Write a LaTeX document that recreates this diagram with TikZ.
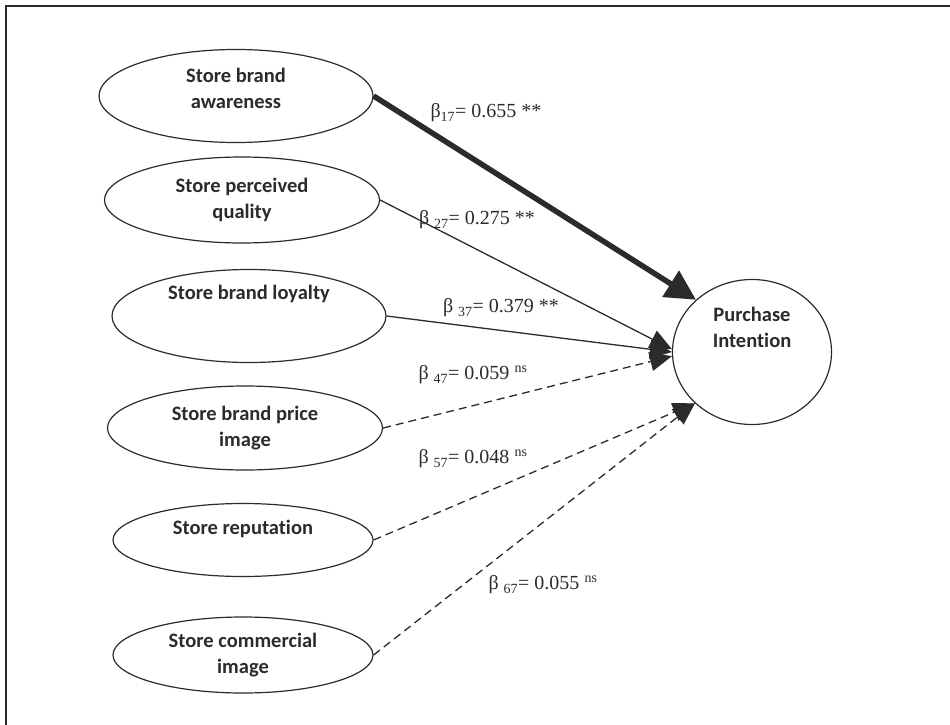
\documentclass[tikz,border=0pt]{standalone}
\usepackage{fontspec}
\setmainfont{Liberation Serif}
\newfontfamily\calibri[Ligatures=NoCommon]{Carlito}
\usetikzlibrary{shapes.geometric,arrows.meta,positioning}
\definecolor{ink}{HTML}{2B2B2B}
\tikzset{
 cons/.style
  = {ellipse, draw=ink, line width=1.2pt, inner sep=0pt, text=ink, align=center,
     font=\calibri\bfseries\fontsize{20.5}{25.5}\selectfont},
 sig/.style
  = {draw=ink, line width=1.3pt, -{Triangle[length=22pt,width=19pt]}},
 big/.style
  = {draw=ink, line width=5.5pt, -{Triangle[length=30pt,width=30pt]}},
 ns/.style
  = {sig, dash pattern=on 8pt off 5pt},
 coef/.style
  = {text=ink, inner sep=0pt, font=\fontsize{20}{24}\selectfont},
}

\begin{document}
\begin{tikzpicture}[x=1pt,y=-1pt]
\useasboundingbox (0,0) rectangle (950,725);

% frame
\draw[ink, line width=2pt] (6,725) -- (6,6) -- (950,6);

% constructs
\node[cons, minimum width=274pt, minimum height=93pt, text depth=15pt] (sba) at (236,96) {Store brand\\awareness};
\node[cons, minimum width=275pt, minimum height=86pt] (spq) at (242,200) {Store perceived\\quality};
\node[cons, minimum width=274pt, minimum height=93pt, text height=14pt, text depth=48pt] (sbl) at (249,316) {Store brand loyalty};
\node[cons, minimum width=275pt, minimum height=84pt] (sbpi) at (245,428) {Store brand price\\image};
\node[cons, minimum width=260pt, minimum height=73pt, text height=14pt, text depth=26pt] (sr) at (243,540) {Store reputation};
\node[cons, minimum width=260pt, minimum height=76pt] (sci) at (243,655) {Store commercial\\image};

% outcome
\node[cons, minimum width=159pt, minimum height=145pt] (pi) at (752,352) {Purchase\\Intention\\[24pt]};

% paths
\draw[big] (sba.east) -- (pi.137);
\draw[sig] (spq.east) -- (pi.178);
\draw[sig] (sbl.east) -- (pi.180);
\draw[ns] (sbpi.east) -- (pi.183);
\draw[ns] (sr.east) -- (pi.222);
\draw[ns] (sci.east) -- (pi.222);

% coefficients
\node[coef] (b17) at (486,113) {β\textsubscript{17}= 0.655 **};
\node[coef] (b27) at (477,220) {β \textsubscript{27}= 0.275 **};
\node[coef] (b37) at (501,308) {β \textsubscript{37}= 0.379 **};
\node[coef] (b47) at (473,375) {β \textsubscript{47}= 0.059 \textsuperscript{ns}};
\node[coef] (b57) at (473,459) {β \textsubscript{57}= 0.048 \textsuperscript{ns}};
\node[coef] (b67) at (543,585) {β \textsubscript{67}= 0.055 \textsuperscript{ns}};

\end{tikzpicture}
\end{document}
